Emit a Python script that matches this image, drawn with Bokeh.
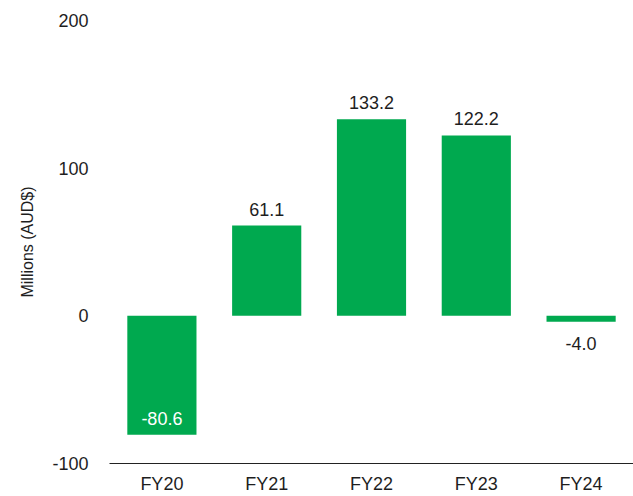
from bokeh.plotting import figure
from bokeh.models import (ColumnDataSource, Range1d, FixedTicker, LabelSet,
                          PrintfTickFormatter)
from bokeh.core.properties import value
from bokeh.embed import file_html
from bokeh.resources import INLINE

categories = ["FY20", "FY21", "FY22", "FY23", "FY24"]
values = [-80.6, 61.1, 133.2, 122.2, -4.0]
labels = ["-80.6", "61.1", "133.2", "122.2", "-4.0"]
y_ticks = [-100, 0, 100, 200]

FONT = "Liberation Sans"
BAR = "#00A94F"
TXT = "#1e1e1e"

xs = list(range(len(categories)))

p = figure(
    width=633, height=496,
    x_range=Range1d(-0.5, len(categories) - 0.5),
    y_range=Range1d(-100, 200),
    output_backend="svg", toolbar_location=None,
    min_border_left=109, min_border_right=0,
    min_border_top=20, min_border_bottom=31,
)
p.outline_line_color = None
p.background_fill_color = "white"
p.border_fill_color = "white"

src = ColumnDataSource(dict(x=xs, top=values))
p.vbar(x="x", top="top", bottom=0, width=0.66, source=src,
       fill_color=BAR, line_color=None)

# labels: above positive bars, below small negatives, inside large negatives
pos = [i for i, v in enumerate(values) if v >= 0]
neg_small = [i for i, v in enumerate(values) if -20 <= v < 0]
neg_big = [i for i, v in enumerate(values) if v < -20]

def make(idx):
    return ColumnDataSource(dict(
        x=[xs[i] for i in idx],
        y=[values[i] for i in idx],
        t=[labels[i] for i in idx],
    ))

common = dict(x="x", y="y", text="t", text_align="center",
              text_font=value(FONT), text_font_size=value("18px"))
p.add_layout(LabelSet(source=make(pos), text_baseline="bottom", y_offset=10,
                      text_color=TXT, **common))
p.add_layout(LabelSet(source=make(neg_small), text_baseline="top", y_offset=-15,
                      text_color=TXT, **common))
p.add_layout(LabelSet(source=make(neg_big), text_baseline="bottom", y_offset=10,
                      text_color="white", **common))

p.xgrid.grid_line_color = None
p.ygrid.grid_line_color = None

p.yaxis.ticker = FixedTicker(ticks=y_ticks)
p.yaxis.formatter = PrintfTickFormatter(format="%d")
p.yaxis.axis_line_color = None
p.yaxis.major_tick_line_color = None
p.yaxis.minor_tick_line_color = None
p.yaxis.major_tick_out = 0
p.yaxis.major_tick_in = 0
p.yaxis.major_label_standoff = 21
p.yaxis.major_label_text_font = FONT
p.yaxis.major_label_text_font_size = "18px"
p.yaxis.major_label_text_color = TXT
p.yaxis.axis_label = "Millions (AUD$)"
p.yaxis.axis_label_text_font = FONT
p.yaxis.axis_label_text_font_size = "16px"
p.yaxis.axis_label_text_font_style = "normal"
p.yaxis.axis_label_text_color = TXT
p.yaxis.axis_label_standoff = 13

p.xaxis.ticker = FixedTicker(ticks=xs)
p.xaxis.major_label_overrides = {i: c for i, c in zip(xs, categories)}
p.xaxis.axis_line_color = "#222222"
p.xaxis.axis_line_width = 1.2
p.xaxis.major_tick_line_color = None
p.xaxis.minor_tick_line_color = None
p.xaxis.major_tick_out = 0
p.xaxis.major_tick_in = 0
p.xaxis.major_label_standoff = 10
p.xaxis.major_label_text_font = FONT
p.xaxis.major_label_text_font_size = "18px"
p.xaxis.major_label_text_color = TXT

open("out.html", "w").write(file_html(p, INLINE))
